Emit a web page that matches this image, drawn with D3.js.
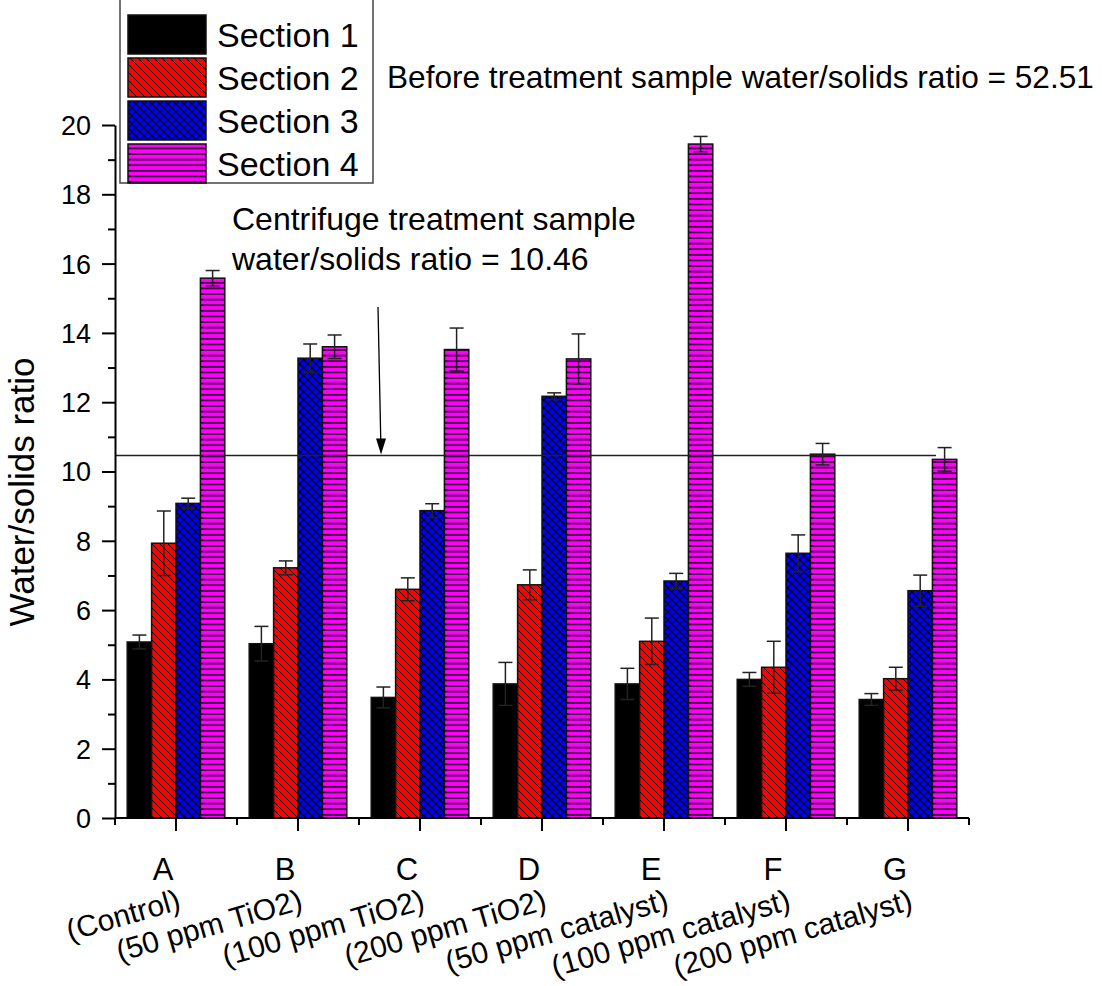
<!DOCTYPE html>
<html>
<head>
<meta charset="utf-8">
<script src="https://cdn.jsdelivr.net/npm/d3@7"></script>
<style>
 body { margin: 0; background: #fff; }
 text { font-family: "Liberation Sans", Arial, sans-serif; fill: #000; }
</style>
</head>
<body>
<svg id="chart"></svg>
<script>
// размеры
const width = 1102;
const height = 986;

// данные
const categories = ["A", "B", "C", "D", "E", "F", "G"];
const subLabels = ["(Control)", "(50 ppm TiO2)", "(100 ppm TiO2)", "(200 ppm TiO2)",
 "(50 ppm catalyst)", "(100 ppm catalyst)", "(200 ppm catalyst)"];
const series = ["Section 1", "Section 2", "Section 3", "Section 4"];
const section1 = [5.08, 5.03, 3.48, 3.87, 3.87, 4.00, 3.42];
const section2 = [7.93, 7.22, 6.60, 6.73, 5.10, 4.35, 4.02];
const section3 = [9.08, 13.27, 8.87, 12.17, 6.84, 7.64, 6.56];
const section4 = [15.58, 13.60, 13.52, 13.25, 19.45, 10.50, 10.35];
const err1 = [0.20, 0.50, 0.30, 0.62, 0.45, 0.20, 0.17];
const err2 = [0.93, 0.20, 0.33, 0.43, 0.67, 0.75, 0.33];
const err3 = [0.15, 0.41, 0.20, 0.10, 0.22, 0.53, 0.45];
const err4 = [0.22, 0.34, 0.62, 0.72, 0.22, 0.31, 0.34];
const yTicks = [0, 2, 4, 6, 8, 10, 12, 14, 16, 18, 20];
const yMinorTicks = [1, 3, 5, 7, 9, 11, 13, 15, 17, 19];
const centrifugeRatio = 10.46;

const values = [section1, section2, section3, section4];
const errors = [err1, err2, err3, err4];

let svg = d3.select("#chart")
 .attr("width", width)
 .attr("height", height);

// штриховки
const defs = svg.append("defs");
function addPattern(id, w, h, fill, paths, sw) {
 let p = defs.append("pattern")
 .attr("id", id)
 .attr("patternUnits", "userSpaceOnUse")
 .attr("width", w)
 .attr("height", h);
 p.append("rect").attr("width", w).attr("height", h).attr("fill", fill);
 paths.forEach(d => {
 p.append("path").attr("d", d).attr("stroke", "#000").attr("stroke-width", sw).attr("fill", "none");
 });
}
addPattern("p2", 8, 8, "#ff0000", ["M-2,-2L10,10", "M-2,6L2,10", "M6,-2L10,2"], 1);
addPattern("p3", 8, 8, "#0000ff", ["M-2,-2L10,10", "M-2,6L2,10", "M6,-2L10,2",
 "M-2,10L10,-2", "M-2,2L2,-2", "M6,10L10,6"], 1.1);
addPattern("p4", 8, 5.6, "#ff00ff", ["M0,2.8L8,2.8"], 1.4);
const fills = ["#000", "url(#p2)", "url(#p3)", "url(#p4)"];

// шкалы
const y = d3.scaleLinear().domain([0, 20]).range([818, 125]);
const x = d3.scaleBand().domain(categories).range([115, 969])
 .paddingInner(0.2).paddingOuter(0.1);
const xs = d3.scaleBand().domain(series).range([0, x.bandwidth()]);

// столбцы
series.forEach((s, si) => {
 let g = svg.append("g");
 g.selectAll("rect")
 .data(categories)
 .join("rect")
 .attr("x", c => x(c) + xs(s))
 .attr("y", (c, i) => y(values[si][i]))
 .attr("width", xs.bandwidth())
 .attr("height", (c, i) => y(0) - y(values[si][i]))
 .attr("fill", fills[si])
 .attr("stroke", "#111")
 .attr("stroke-width", 1.5);
});

// погрешности
series.forEach((s, si) => {
 let g = svg.append("g")
 .style("stroke", "#222")
 .style("stroke-width", 1.5);
 categories.forEach((c, i) => {
 let cx = x(c) + xs(s) + xs.bandwidth() / 2;
 let top = y(values[si][i] + errors[si][i]);
 let bot = y(values[si][i] - errors[si][i]);
 g.append("line").attr("x1", cx).attr("x2", cx).attr("y1", top).attr("y2", bot);
 g.append("line").attr("x1", cx - 7).attr("x2", cx + 7).attr("y1", top).attr("y2", top);
 g.append("line").attr("x1", cx - 7).attr("x2", cx + 7).attr("y1", bot).attr("y2", bot);
 });
});

// линия центрифуги
svg.append("line")
 .attr("x1", 115).attr("x2", 936)
 .attr("y1", y(centrifugeRatio)).attr("y2", y(centrifugeRatio))
 .style("stroke", "#222")
 .style("stroke-width", 1.5);

// ось Y
let yAxis = svg.append("g")
 .attr("transform", "translate(115,0)")
 .call(d3.axisLeft(y).tickValues(yTicks).tickSize(13).tickSizeOuter(0).tickPadding(11));
yAxis.selectAll("text").style("font-size", "27px").attr("dy", "0.35em");
svg.append("g")
 .attr("transform", "translate(115,0)")
 .call(d3.axisLeft(y).tickValues(yMinorTicks).tickSize(7).tickSizeOuter(0).tickFormat(""))
 .select(".domain").remove();
svg.selectAll(".tick line, .domain").style("stroke", "#000").style("stroke-width", 2);

// ось X
svg.append("line")
 .attr("x1", 115).attr("x2", 969).attr("y1", y(0)).attr("y2", y(0))
 .style("stroke", "#000").style("stroke-width", 2);
let xt = svg.append("g").style("stroke", "#000").style("stroke-width", 2);
categories.forEach((c, i) => {
 let cx = x(c) + x.bandwidth() / 2;
 xt.append("line").attr("x1", cx).attr("x2", cx).attr("y1", y(0)).attr("y2", y(0) + 13);
 let bx = cx - x.step() / 2;
 xt.append("line").attr("x1", bx).attr("x2", bx).attr("y1", y(0)).attr("y2", y(0) + 7);
 if (i === categories.length - 1) {
 xt.append("line").attr("x1", cx + x.step() / 2).attr("x2", cx + x.step() / 2).attr("y1", y(0)).attr("y2", y(0) + 7);
 }
});

// подписи категорий
svg.append("g").selectAll("text")
 .data(categories)
 .join("text")
 .attr("x", c => x(c) + x.bandwidth() / 2 - 13)
 .attr("y", 880)
 .attr("text-anchor", "middle")
 .style("font-size", "31px")
 .text(c => c);
svg.append("g").selectAll("text")
 .data(categories)
 .join("text")
 .attr("transform", c => `translate(${x(c) + x.bandwidth() / 2 + 6},909) rotate(-16)`)
 .attr("text-anchor", "end")
 .style("font-size", "30px")
 .text((c, i) => subLabels[i]);

// подпись оси Y
svg.append("text")
 .attr("transform", "translate(34,492) rotate(-90)")
 .attr("text-anchor", "middle")
 .style("font-size", "35px")
 .text("Water/solids ratio");

// стрелка
svg.append("line")
 .attr("x1", 378).attr("y1", 307).attr("x2", 381).attr("y2", y(centrifugeRatio) - 4)
 .style("stroke", "#000").style("stroke-width", 1.3);
svg.append("path")
 .attr("d", `M376,${y(centrifugeRatio) - 17}L386,${y(centrifugeRatio) - 17}L381,${y(centrifugeRatio) - 1}Z`)
 .attr("fill", "#000");

// надписи
svg.append("text").attr("x", 232).attr("y", 230).style("font-size", "32px")
 .text("Centrifuge treatment sample");
svg.append("text").attr("x", 232).attr("y", 270).style("font-size", "32px")
 .text("water/solids ratio = 10.46");
svg.append("text").attr("x", 387).attr("y", 88).style("font-size", "31.6px")
 .text("Before treatment sample water/solids ratio = 52.51");

// легенда
let legend = svg.append("g");
legend.append("rect")
 .attr("x", 120).attr("y", -2).attr("width", 253).attr("height", 185)
 .attr("fill", "#fff").attr("stroke", "#444").attr("stroke-width", 1.5);
series.forEach((s, i) => {
 legend.append("rect")
 .attr("x", 128).attr("y", 15 + i * 43)
 .attr("width", 78).attr("height", 39)
 .attr("fill", fills[i]).attr("stroke", "#111").attr("stroke-width", 1.5);
 legend.append("text")
 .attr("x", 217).attr("y", 47 + i * 43)
 .style("font-size", "34px")
 .text(s);
});
</script>
</body>
</html>
